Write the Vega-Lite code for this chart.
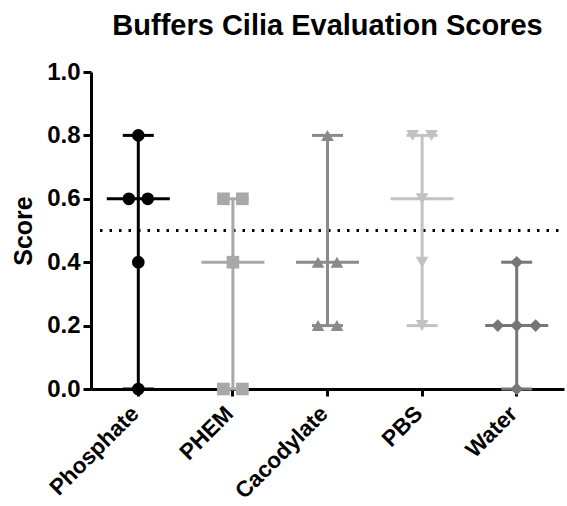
{
  "$schema": "https://vega.github.io/schema/vega-lite/v6.json",
  "width": 473,
  "height": 317,
  "autosize": "none",
  "padding": {"left": 91, "top": 72, "right": 3, "bottom": 117},
  "title": {"text": "Buffers Cilia Evaluation Scores", "fontSize": 29, "font": "Liberation Sans", "fontWeight": "bold", "frame": "group", "anchor": "middle", "offset": 32, "dy": 13, "color": "black"},
  "config": {
    "view": {"stroke": null},
    "axis": {"labelFont": "Liberation Sans", "titleFont": "Liberation Sans", "labelFontWeight": "bold", "titleFontWeight": "bold", "labelColor": "black", "titleColor": "black", "domainColor": "black", "tickColor": "black", "domainWidth": 3, "tickWidth": 3, "grid": false}
  },
  "data": {"values": [
    {"buffer": "Phosphate", "score": 0.8}, {"buffer": "Phosphate", "score": 0.6}, {"buffer": "Phosphate", "score": 0.6}, {"buffer": "Phosphate", "score": 0.4}, {"buffer": "Phosphate", "score": 0.0},
    {"buffer": "PHEM", "score": 0.6}, {"buffer": "PHEM", "score": 0.6}, {"buffer": "PHEM", "score": 0.4}, {"buffer": "PHEM", "score": 0.0}, {"buffer": "PHEM", "score": 0.0},
    {"buffer": "Cacodylate", "score": 0.8}, {"buffer": "Cacodylate", "score": 0.4}, {"buffer": "Cacodylate", "score": 0.4}, {"buffer": "Cacodylate", "score": 0.2}, {"buffer": "Cacodylate", "score": 0.2},
    {"buffer": "PBS", "score": 0.8}, {"buffer": "PBS", "score": 0.8}, {"buffer": "PBS", "score": 0.6}, {"buffer": "PBS", "score": 0.4}, {"buffer": "PBS", "score": 0.2},
    {"buffer": "Water", "score": 0.4}, {"buffer": "Water", "score": 0.2}, {"buffer": "Water", "score": 0.2}, {"buffer": "Water", "score": 0.2}, {"buffer": "Water", "score": 0.0}
  ]},
  "transform": [
    {"joinaggregate": [{"op": "count", "as": "n"}], "groupby": ["buffer", "score"]},
    {"window": [{"op": "row_number", "as": "k"}], "groupby": ["buffer", "score"]},
    {"calculate": "datum.k - (datum.n + 1) / 2", "as": "slot"}
  ],
  "layer": [
    {
      "data": {"values": [{}]},
      "mark": {"type": "rule", "strokeDash": [2.5, 7], "strokeWidth": 2.8, "color": "black", "x": 9, "x2": 473},
      "encoding": {"y": {"datum": 0.5}}
    },
    {
      "mark": {"type": "rule", "strokeWidth": 3},
      "encoding": {
        "x": {"field": "buffer", "type": "nominal", "sort": ["Phosphate", "PHEM", "Cacodylate", "PBS", "Water"], "scale": {"paddingInner": 0, "paddingOuter": 0}, "axis": {"title": null, "labelAngle": -45, "labelFontSize": 22.5, "tickSize": 7, "labelPadding": 6, "labelOffset": -11}},
        "y": {"aggregate": "min", "field": "score", "type": "quantitative", "scale": {"domain": [0, 1], "nice": false}, "axis": {"title": "Score", "values": [0, 0.2, 0.4, 0.6, 0.8, 1.0], "format": ".1f", "labelFontSize": 24, "titleFontSize": 25, "tickSize": 8, "labelPadding": 3, "titlePadding": 10}},
        "y2": {"aggregate": "max", "field": "score"},
        "color": {"field": "buffer", "type": "nominal", "scale": {"domain": ["Phosphate", "PHEM", "Cacodylate", "PBS", "Water"], "range": ["#000000", "#a8a8a8", "#8a8a8a", "#c2c2c2", "#767676"]}, "legend": null}
      }
    },
    {
      "mark": {"type": "tick", "thickness": 3, "size": 63, "orient": "horizontal"},
      "encoding": {
        "x": {"field": "buffer", "type": "nominal", "sort": ["Phosphate", "PHEM", "Cacodylate", "PBS", "Water"]},
        "y": {"aggregate": "median", "field": "score", "type": "quantitative"},
        "color": {"field": "buffer", "type": "nominal", "legend": null}
      }
    },
    {
      "mark": {"type": "tick", "thickness": 3, "size": 31, "orient": "horizontal"},
      "encoding": {
        "x": {"field": "buffer", "type": "nominal", "sort": ["Phosphate", "PHEM", "Cacodylate", "PBS", "Water"]},
        "y": {"aggregate": "max", "field": "score", "type": "quantitative"},
        "color": {"field": "buffer", "type": "nominal", "legend": null}
      }
    },
    {
      "mark": {"type": "tick", "thickness": 3, "size": 31, "orient": "horizontal"},
      "encoding": {
        "x": {"field": "buffer", "type": "nominal", "sort": ["Phosphate", "PHEM", "Cacodylate", "PBS", "Water"]},
        "y": {"aggregate": "min", "field": "score", "type": "quantitative"},
        "color": {"field": "buffer", "type": "nominal", "legend": null}
      }
    },
    {
      "mark": {"type": "point", "filled": true, "opacity": 1, "size": 160, "strokeWidth": 0},
      "encoding": {
        "x": {"field": "buffer", "type": "nominal", "sort": ["Phosphate", "PHEM", "Cacodylate", "PBS", "Water"]},
        "xOffset": {"field": "slot", "type": "quantitative", "scale": {"domain": [-2.5, 2.5]}},
        "y": {"field": "score", "type": "quantitative"},
        "shape": {"field": "buffer", "type": "nominal", "scale": {"domain": ["Phosphate", "PHEM", "Cacodylate", "PBS", "Water"], "range": ["circle", "square", "triangle-up", "triangle-down", "diamond"]}, "legend": null},
        "color": {"field": "buffer", "type": "nominal", "legend": null}
      }
    }
  ]
}
